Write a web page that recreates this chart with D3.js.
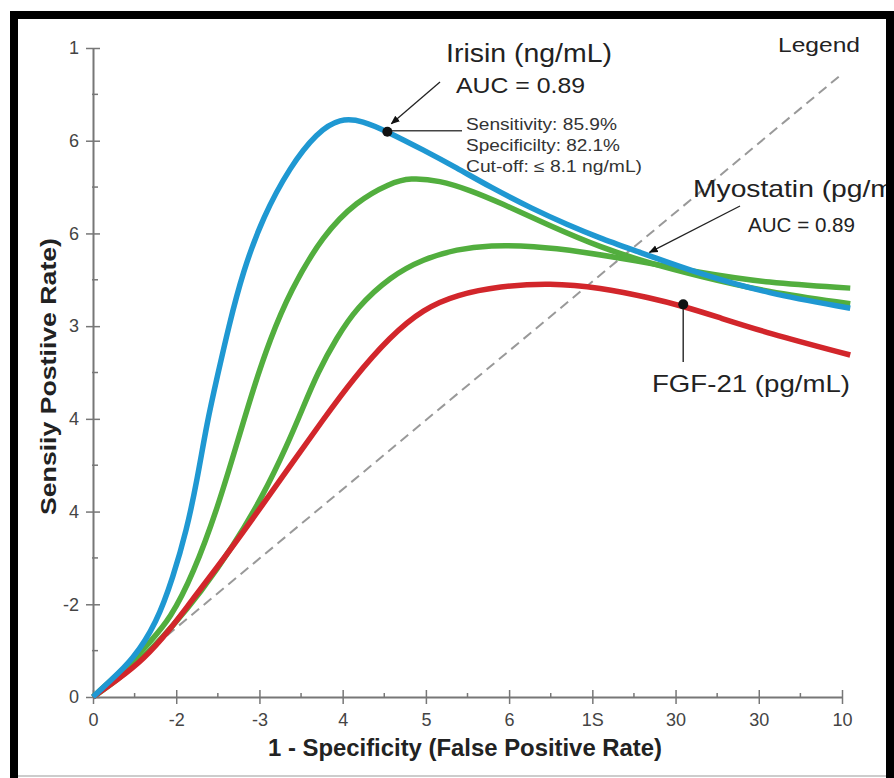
<!DOCTYPE html>
<html lang="en">
  <head>
    <meta charset="utf-8"/>
    <title>ROC curves</title>
    <script src="https://d3js.org/d3.v7.min.js"></script>
    <style>
      body { margin: 0; background: #fff; }
      svg { display: block; font-family: "Liberation Sans", Arial, sans-serif; }
    </style>
  </head>
  <body>
    <div id="chart"></div>
    <script>
    // tick labels as they appear on the figure
    var xTickLabels = ["0", "-2", "-3", "4", "5", "6", "1S", "30", "30", "10"];
    var yTickLabels = ["0", "-2", "4", "4", "3", "6", "6", "1"];

    // curves, [1 - specificity, sensitivity]
    var irisin = [[0,0],[0.023,0.025],[0.053,0.057],[0.085,0.114],[0.107,0.185],[0.125,0.257],[0.139,0.334],
      [0.152,0.422],[0.166,0.494],[0.181,0.570],[0.200,0.655],[0.227,0.740],[0.263,0.817],[0.299,0.870],
      [0.330,0.892],[0.360,0.888],[0.393,0.871],[0.441,0.843],[0.486,0.815],[0.530,0.786],[0.587,0.752],
      [0.633,0.728],[0.677,0.707],[0.721,0.689],[0.810,0.652],[0.900,0.622],[1.011,0.599]];
    var myostatinA = [[0,0],[0.023,0.025],[0.053,0.055],[0.076,0.085],[0.103,0.120],[0.134,0.190],[0.166,0.290],
      [0.192,0.390],[0.214,0.475],[0.236,0.550],[0.263,0.625],[0.307,0.712],[0.352,0.764],[0.397,0.792],
      [0.423,0.800],[0.463,0.796],[0.503,0.781],[0.543,0.762],[0.610,0.726],[0.677,0.693],[0.744,0.668],
      [0.810,0.648],[0.900,0.624],[1.011,0.606]];
    var myostatinB = [[0,0],[0.032,0.026],[0.067,0.060],[0.107,0.110],[0.143,0.160],[0.187,0.232],[0.227,0.310],
      [0.260,0.390],[0.280,0.445],[0.300,0.500],[0.325,0.553],[0.352,0.600],[0.397,0.648],[0.441,0.675],
      [0.486,0.690],[0.530,0.696],[0.587,0.695],[0.654,0.686],[0.721,0.673],[0.810,0.654],[0.900,0.638],[1.011,0.630]];
    var fgf21 = [[0,0],[0.032,0.026],[0.067,0.057],[0.103,0.104],[0.130,0.146],[0.174,0.212],[0.219,0.284],
      [0.263,0.356],[0.307,0.427],[0.347,0.490],[0.397,0.556],[0.441,0.598],[0.486,0.620],[0.543,0.633],
      [0.610,0.638],[0.677,0.631],[0.744,0.615],[0.788,0.602],[0.830,0.587],[0.900,0.561],[1.011,0.527]];
    var chance = [[0,0],[1,0.96]];

    var irisinCut = [0.393, 0.871];
    var fgfCut = [0.788, 0.605];
    var myoPoint = [0.743, 0.682];

    var width = 894, height = 778;
    var svg = d3.select("#chart").append("svg")
        .attr("width", width)
        .attr("height", height);

    svg.append("defs").append("marker")
        .attr("id", "arrow")
        .attr("viewBox", "0 0 10 10")
        .attr("refX", 9).attr("refY", 5)
        .attr("markerWidth", 7).attr("markerHeight", 7)
        .attr("orient", "auto")
      .append("path")
        .attr("d", "M0,1 L10,5 L0,9 Z")
        .attr("fill", "#111");

    var x = d3.scaleLinear().domain([0, 1]).range([93, 842]);
    var y = d3.scaleLinear().domain([0, 1]).range([697, 48]);

    var xMajor = xTickLabels.map(function(d, i) { return i / (xTickLabels.length - 1); });
    var yMajor = yTickLabels.map(function(d, i) { return i / (yTickLabels.length - 1); });
    var xMinor = xMajor.slice(1).map(function(d) { return d - 0.5 / (xTickLabels.length - 1); });
    var yMinor = yMajor.slice(1).map(function(d) { return d - 0.5 / (yTickLabels.length - 1); });

    var axisColor = "#777";

    // minor ticks
    svg.append("g").selectAll("line").data(xMinor).join("line")
        .attr("x1", function(d) { return x(d); }).attr("x2", function(d) { return x(d); })
        .attr("y1", y(0) - 4).attr("y2", y(0) + 1)
        .attr("stroke", axisColor).attr("stroke-width", 1.5);
    svg.append("g").selectAll("line").data(yMinor).join("line")
        .attr("y1", function(d) { return y(d); }).attr("y2", function(d) { return y(d); })
        .attr("x1", x(0) - 1).attr("x2", x(0) + 5)
        .attr("stroke", axisColor).attr("stroke-width", 1.5);

    var xAxis = svg.append("g")
        .attr("transform", "translate(0," + y(0) + ")")
        .call(d3.axisBottom(x).tickValues(xMajor).tickSizeOuter(0).tickSizeInner(7).tickPadding(9)
          .tickFormat(function(d, i) { return xTickLabels[i]; }));
    xAxis.selectAll(".tick line").attr("y1", -7);

    var yAxis = svg.append("g")
        .attr("transform", "translate(" + x(0) + ",0)")
        .call(d3.axisLeft(y).tickValues(yMajor).tickSizeOuter(0).tickSizeInner(7).tickPadding(7)
          .tickFormat(function(d, i) { return yTickLabels[i]; }));
    yAxis.selectAll(".tick line").attr("x1", 7);

    [xAxis, yAxis].forEach(function(a) {
      a.select(".domain").attr("stroke", axisColor).attr("stroke-width", 2);
      a.selectAll(".tick line").attr("stroke", axisColor).attr("stroke-width", 1.5);
      a.selectAll(".tick text").attr("fill", "#444").style("font-size", "18px")
        .style("font-family", "'Liberation Sans Narrow', 'Liberation Sans', Arial, sans-serif");
    });

    // axis titles
    svg.append("text")
        .attr("x", 268).attr("y", 756)
        .attr("textLength", 394).attr("lengthAdjust", "spacingAndGlyphs")
        .style("font-size", "23px").style("font-weight", "bold").attr("fill", "#222")
        .text("1 - Specificity (False Positive Rate)");
    svg.append("text")
        .attr("transform", "translate(56,515) rotate(-90)")
        .attr("textLength", 277).attr("lengthAdjust", "spacingAndGlyphs")
        .style("font-size", "22px").style("font-weight", "bold").attr("fill", "#222")
        .text("Sensiiy Postiive Rate)");

    var line = d3.line()
        .x(function(d) { return x(d[0]); })
        .y(function(d) { return y(d[1]); })
        .curve(d3.curveBasis);

    svg.append("path")
        .datum(chance)
        .attr("d", d3.line().x(function(d) { return x(d[0]); }).y(function(d) { return y(d[1]); }))
        .attr("fill", "none").attr("stroke", "#999").attr("stroke-width", 2)
        .attr("stroke-dasharray", "10,6");

    var curves = [
      {data: myostatinB, color: "#52ae3e"},
      {data: myostatinA, color: "#52ae3e"},
      {data: fgf21, color: "#d2262b"},
      {data: irisin, color: "#1f98d2"}
    ];
    svg.append("g").selectAll("path").data(curves).join("path")
        .attr("d", function(d) { return line(d.data); })
        .attr("fill", "none")
        .attr("stroke", function(d) { return d.color; })
        .attr("stroke-width", 5.5);

    // annotations
    svg.append("line")
        .attr("x1", 440).attr("y1", 82)
        .attr("x2", x(irisinCut[0]) + 4).attr("y2", y(irisinCut[1]) - 8)
        .attr("stroke", "#222").attr("stroke-width", 1.3)
        .attr("marker-end", "url(#arrow)");
    svg.append("line")
        .attr("x1", x(irisinCut[0])).attr("y1", y(irisinCut[1]) - 1)
        .attr("x2", 462).attr("y2", y(irisinCut[1]) - 1)
        .attr("stroke", "#444").attr("stroke-width", 1.5);
    svg.append("circle")
        .attr("cx", x(irisinCut[0])).attr("cy", y(irisinCut[1]))
        .attr("r", 5).attr("fill", "#111");

    svg.append("line")
        .attr("x1", 740).attr("y1", 206)
        .attr("x2", x(myoPoint[0])).attr("y2", y(myoPoint[1]) - 2)
        .attr("stroke", "#222").attr("stroke-width", 1.3)
        .attr("marker-end", "url(#arrow)");

    svg.append("line")
        .attr("x1", x(fgfCut[0])).attr("y1", y(fgfCut[1]))
        .attr("x2", x(fgfCut[0])).attr("y2", 362)
        .attr("stroke", "#333").attr("stroke-width", 1.5);
    svg.append("circle")
        .attr("cx", x(fgfCut[0])).attr("cy", y(fgfCut[1]))
        .attr("r", 5).attr("fill", "#111");

    var labels = [
      {t: "Irisin (ng/mL)", x: 446, y: 62, s: 25, w: 166, c: "#222"},
      {t: "AUC = 0.89", x: 456, y: 93, s: 22, w: 129, c: "#222"},
      {t: "Sensitivity: 85.9%", x: 466, y: 130, s: 16, w: 151, c: "#333"},
      {t: "Specificilty: 82.1%", x: 466, y: 151, s: 16, w: 154, c: "#333"},
      {t: "Cut-off: \u2264 8.1 ng/mL)", x: 466, y: 172, s: 16, w: 176, c: "#333"},
      {t: "Legend", x: 778, y: 52, s: 20, w: 82, c: "#222"},
      {t: "Myostatin (pg/mL)", x: 693, y: 197, s: 24, w: 226, c: "#222"},
      {t: "AUC = 0.89", x: 748, y: 232, s: 20, w: 107, c: "#222"},
      {t: "FGF-21 (pg/mL)", x: 652, y: 392, s: 24, w: 198, c: "#222"}
    ];
    svg.append("g").selectAll("text").data(labels).join("text")
        .attr("x", function(d) { return d.x; })
        .attr("y", function(d) { return d.y; })
        .attr("textLength", function(d) { return d.w; })
        .attr("lengthAdjust", "spacingAndGlyphs")
        .attr("fill", function(d) { return d.c; })
        .style("font-size", function(d) { return d.s + "px"; })
        .text(function(d) { return d.t; });

    // frame on top, it cuts the Myostatin label at the right edge
    svg.append("rect")
        .attr("x", 894 - 6).attr("y", 0).attr("width", 6).attr("height", height)
        .attr("fill", "#fff");
    svg.append("rect")
        .attr("x", 14).attr("y", 15).attr("width", 876).attr("height", 790)
        .attr("fill", "none").attr("stroke", "#000").attr("stroke-width", 8);
    svg.append("line")
        .attr("x1", 18).attr("x2", 886).attr("y1", 776).attr("y2", 776)
        .attr("stroke", "#ccc").attr("stroke-width", 2);
    </script>
  </body>
</html>
